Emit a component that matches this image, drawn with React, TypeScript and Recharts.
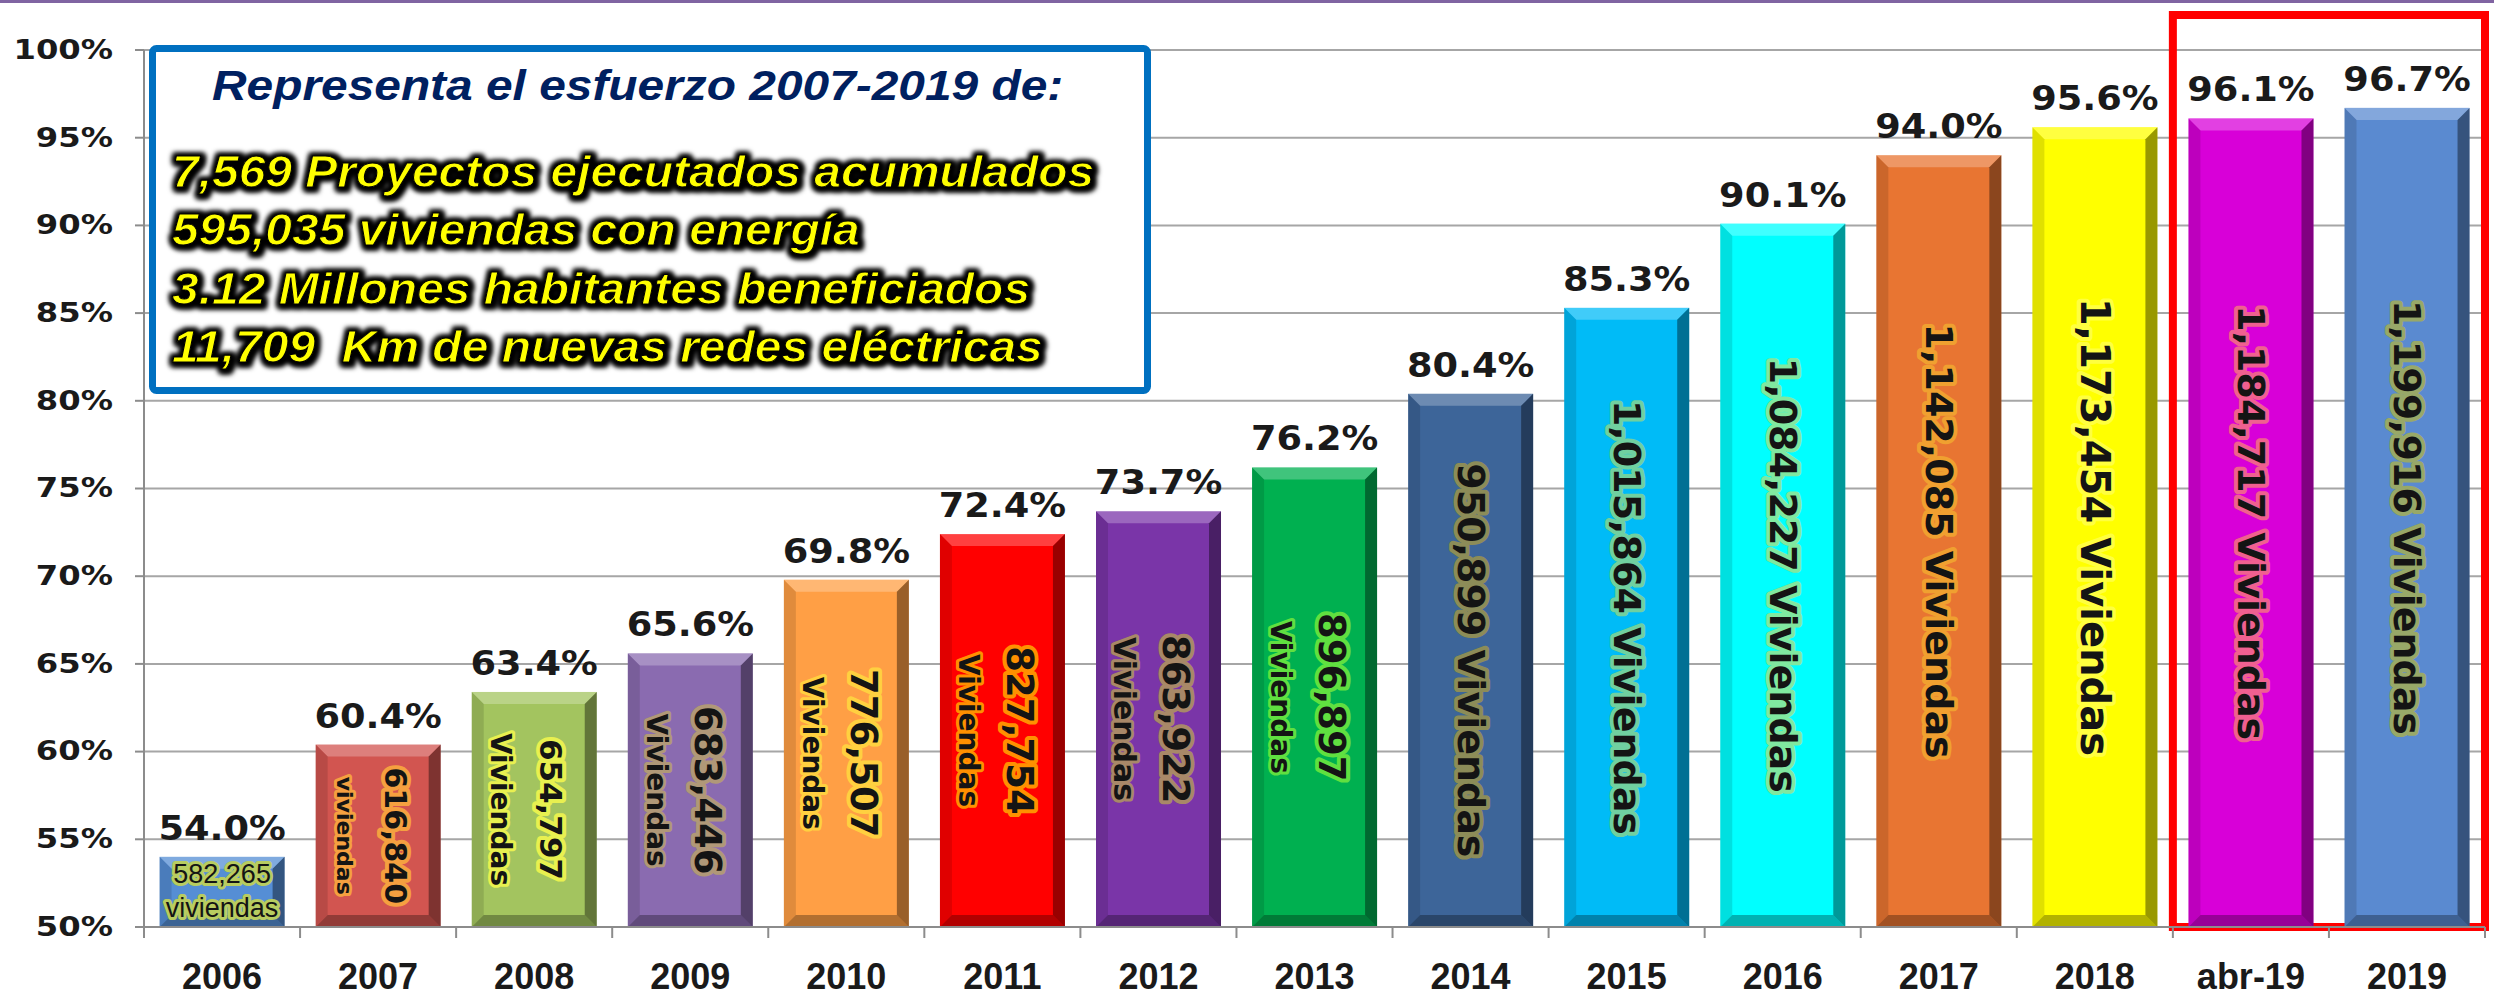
import React from "react";
import {
  BarChart,
  Bar,
  XAxis,
  YAxis,
  CartesianGrid,
  LabelList,
  ReferenceArea,
} from "recharts";

// datos
const years = ["2006", "2007", "2008", "2009", "2010", "2011", "2012", "2013", "2014", "2015", "2016", "2017", "2018", "abr-19", "2019"];
const coverage = [54.0, 60.4, 63.4, 65.6, 69.8, 72.4, 73.7, 76.2, 80.4, 85.3, 90.1, 94.0, 95.6, 96.1, 96.7];
const homes = [582265, 616840, 654797, 683446, 776507, 827754, 863922, 896897, 950899, 1015864, 1084227, 1142085, 1173454, 1184717, 1199916];
const homeUnit = ["viviendas", "viviendas", "Viviendas", "Viviendas", "Viviendas", "Viviendas", "Viviendas", "Viviendas", "Viviendas", "Viviendas", "Viviendas", "Viviendas", "Viviendas", "Viviendas", "Viviendas"];
const yTicks = [50, 55, 60, 65, 70, 75, 80, 85, 90, 95, 100];

const boxTitle = "Representa el esfuerzo 2007-2019 de:";
const boxLines = [
  "7,569 Proyectos ejecutados acumulados",
  "595,035 viviendas con energía",
  "3.12 Millones habitantes beneficiados",
  "11,709  Km de nuevas redes eléctricas",
];

// estilos
const barColors = ["#558ed5", "#d25550", "#a3c45f", "#8a6bb0", "#ff9f45", "#ff0000", "#7a35a8", "#00b050", "#3d6599", "#00bbf7", "#00ffff", "#e87532", "#ffff00", "#d800d8", "#5a8ad0"];
const haloColors = ["#b8cc60", "#f5a040", "#e8f050", "#b09878", "#ffd040", "#ff9000", "#a88868", "#60e040", "#8c8c58", "#70d0a0", "#80e8a0", "#f0a030", "#ffff40", "#f06090", "#98a868"];
const numSizes = [27, 30, 31, 37, 37, 37, 37, 37, 38, 38, 38, 38, 40, 38, 38];
const unitSizes = [27, 22, 28, 28, 28, 28, 30, 28, 38, 38, 38, 38, 40, 38, 38];

const W = 2494;
const H = 1000;
const margin = { top: 50, right: 9, left: 0, bottom: 13 };
const yAxisW = 144;
const xAxisH = 60;
const plotBottom = H - margin.bottom - xAxisH;
const bandW = (W - margin.left - margin.right - yAxisW) / years.length;

const data = years.map((year, i) => ({ year, coverage: coverage[i], homes: homes[i] }));

const fmt = (n: number) => n.toLocaleString("en-US");

function BevelBar(props: any) {
  const { x, y, width: w, height: h, index } = props;
  if (!h || h <= 0) return null;
  const b = Math.min(12, w / 6, h / 4);
  const c = barColors[index];
  return (
    <g>
      <rect x={x} y={y} width={w} height={h} fill={c} />
      <polygon points={`${x},${y} ${x + w},${y} ${x + w - b},${y + b} ${x + b},${y + b}`} fill="#fff" fillOpacity={0.25} />
      <polygon points={`${x},${y} ${x + b},${y + b} ${x + b},${y + h - b} ${x},${y + h}`} fill="#000" fillOpacity={0.12} />
      <polygon points={`${x + w},${y} ${x + w - b},${y + b} ${x + w - b},${y + h - b} ${x + w},${y + h}`} fill="#000" fillOpacity={0.4} />
      <polygon points={`${x},${y + h} ${x + b},${y + h - b} ${x + w - b},${y + h - b} ${x + w},${y + h}`} fill="#000" fillOpacity={0.3} />
    </g>
  );
}

function TopLabel(props: any) {
  const vb = props.viewBox || props;
  const cx = vb.x + vb.width / 2;
  return (
    <text
      transform={`translate(${cx},${vb.y - 17}) scale(1.08,1)`}
      textAnchor="middle"
      fontFamily="DejaVu Sans"
      fontWeight="bold"
      fontSize={34}
      fill="#1a1a1a"
    >
      {Number(props.value).toFixed(1)}%
    </text>
  );
}

function InsideLabel(props: any) {
  const vb = props.viewBox || props;
  const i = props.index;
  const cx = vb.x + vb.width / 2;
  const cy = vb.y + vb.height / 2;
  const halo = {
    stroke: haloColors[i],
    strokeWidth: 8,
    strokeLinejoin: "round" as const,
    paintOrder: "stroke",
    fill: "#141414",
  };
  const num = fmt(homes[i]);
  if (i === 0) {
    return (
      <g fontFamily="Liberation Sans" fontSize={numSizes[i]} textAnchor="middle">
        <text x={cx} y={cy - 9} {...halo} strokeWidth={6}>{num}</text>
        <text x={cx} y={cy + 25} {...halo} strokeWidth={6}>{homeUnit[i]}</text>
      </g>
    );
  }
  if (i < 8) {
    return (
      <g transform={`translate(${cx - 4},${cy}) rotate(90)`} fontFamily="DejaVu Sans" fontWeight="bold" textAnchor="middle">
        <text x={0} y={-21} dominantBaseline="central" fontSize={numSizes[i]} {...halo}>{num}</text>
        <text x={0} y={30} dominantBaseline="central" fontSize={unitSizes[i]} {...halo} strokeWidth={6}>{homeUnit[i]}</text>
      </g>
    );
  }
  return (
    <g transform={`translate(${cx},${cy}) rotate(90)`} fontFamily="DejaVu Sans" fontWeight="bold" textAnchor="middle">
      <text x={0} y={0} dominantBaseline="central" fontSize={numSizes[i]} {...halo}>{`${num} ${homeUnit[i]}`}</text>
    </g>
  );
}

function YTick(props: any) {
  const { x, y, payload } = props;
  return (
    <text
      transform={`translate(${x},${y}) scale(1.24,1)`}
      textAnchor="end"
      dominantBaseline="central"
      fontFamily="DejaVu Sans"
      fontWeight="bold"
      fontSize={26}
      fill="#1a1a1a"
    >
      {payload.value}%
    </text>
  );
}

function XTick(props: any) {
  const { x, payload, index } = props;
  const last = index === years.length - 1;
  return (
    <g>
      <line x1={x - bandW / 2} x2={x - bandW / 2} y1={plotBottom} y2={plotBottom + 11} stroke="#8c8c8c" strokeWidth={2} />
      {last && <line x1={x + bandW / 2} x2={x + bandW / 2} y1={plotBottom} y2={plotBottom + 11} stroke="#8c8c8c" strokeWidth={2} />}
      <text x={x} y={plotBottom + 62} textAnchor="middle" fontFamily="Liberation Sans" fontWeight="bold" fontSize={36} fill="#1a1a1a">
        {payload.value}
      </text>
    </g>
  );
}

export default function App() {
  return (
    <div style={{ position: "absolute", left: 0, top: 0, width: W, height: H, background: "#fff" }}>
      <div style={{ position: "absolute", left: 0, top: 0, width: W, height: 3, background: "#8064a2" }} />
      <BarChart width={W} height={H} data={data} margin={margin} barCategoryGap="10%">
        <CartesianGrid vertical={false} stroke="#a6a6a6" strokeWidth={2} />
        <XAxis
          dataKey="year"
          height={xAxisH}
          tickLine={false}
          axisLine={{ stroke: "#8c8c8c", strokeWidth: 2 }}
          tick={<XTick />}
          interval={0}
        />
        <YAxis
          width={yAxisW}
          domain={[50, 100]}
          ticks={yTicks}
          allowDataOverflow
          tickSize={9}
          tickMargin={22}
          tickLine={{ stroke: "#8c8c8c", strokeWidth: 2 }}
          axisLine={{ stroke: "#8c8c8c", strokeWidth: 2 }}
          tick={<YTick />}
        />
        <Bar dataKey="coverage" shape={<BevelBar />} isAnimationActive={false}>
          <LabelList dataKey="coverage" content={<TopLabel />} />
          <LabelList dataKey="homes" content={<InsideLabel />} />
        </Bar>
        <ReferenceArea
          x1="abr-19"
          x2="2019"
          y1={50}
          y2={102}
          ifOverflow="visible"
          fill="none"
          stroke="#ff0000"
          strokeWidth={8}
        />
      </BarChart>
      <svg width={W} height={H} style={{ position: "absolute", left: 0, top: 0, pointerEvents: "none" }}>
        <defs>
          <filter id="darkGlow" x="-10%" y="-40%" width="120%" height="180%">
            <feMorphology in="SourceAlpha" operator="dilate" radius="2.5" result="d" />
            <feGaussianBlur in="d" stdDeviation="2.5" result="b" />
            <feOffset in="b" dx="2" dy="2" result="o" />
            <feMerge>
              <feMergeNode in="o" />
              <feMergeNode in="b" />
              <feMergeNode in="SourceGraphic" />
            </feMerge>
          </filter>
        </defs>
        <rect x={152.5} y={48.5} width={995} height={342} rx={4} fill="#fff" stroke="#0070c0" strokeWidth={7} />
        <text
          transform="translate(212,100) scale(1.14,1)"
          fontFamily="Liberation Sans"
          fontWeight="bold"
          fontStyle="italic"
          fontSize={42}
          fill="#002060"
        >
          {boxTitle}
        </text>
        {boxLines.map((line, i) => (
          <text
            key={i}
            transform={`translate(172,${187 + i * 58.3}) scale(1.09,1)`}
            fontFamily="Liberation Sans"
            fontWeight="bold"
            fontStyle="italic"
            fontSize={44}
            fill="#ffff00"
            stroke="#000"
            strokeWidth={1}
            filter="url(#darkGlow)"
            style={{ whiteSpace: "pre" }}
          >
            {line}
          </text>
        ))}
      </svg>
    </div>
  );
}
